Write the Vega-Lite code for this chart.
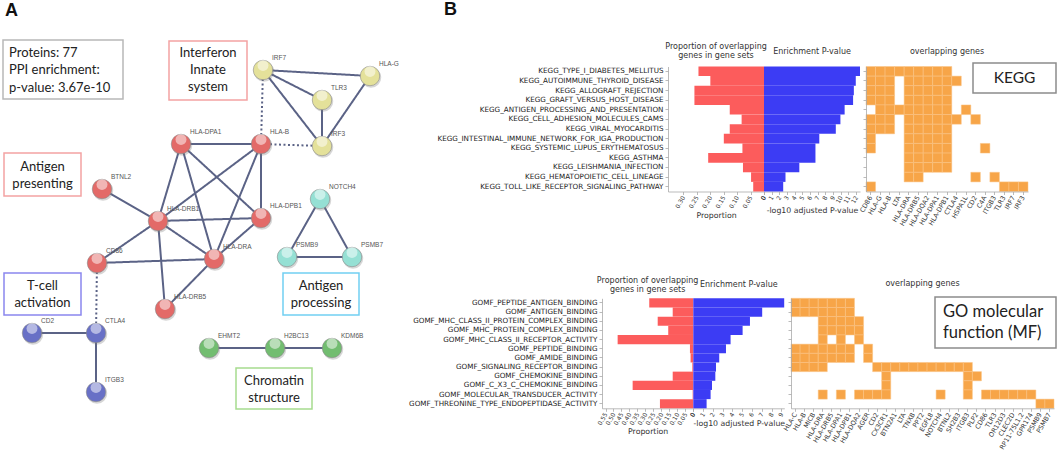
{
"$schema": "https://vega.github.io/schema/vega-lite/v6.json",
"width": 1059, "height": 455, "autosize": "none", "padding": 0, "background": "white",
"config": {
  "view": {"stroke": null},
  "font": "DejaVu Sans",
  "axis": {"grid": false, "labelFont": "DejaVu Sans", "labelFontSize": 6, "labelColor": "#333", "titleFont": "DejaVu Sans", "titleFontSize": 7.8, "titleFontWeight": "normal", "titleColor": "#333", "domainColor": "#aaa", "tickColor": "#aaa", "tickSize": 3, "labelPadding": 1.5, "domainWidth": 0.8, "tickWidth": 0.8, "labelOverlap": false, "labelFlush": false}
},
"datasets": {
  "nodes": [
    {"id": "IRF7", "x": 263, "y": 70, "cluster": "interferon"},
    {"id": "HLA-G", "x": 370, "y": 76, "cluster": "interferon"},
    {"id": "TLR3", "x": 322, "y": 100, "cluster": "interferon"},
    {"id": "IRF3", "x": 322, "y": 146, "cluster": "interferon"},
    {"id": "HLA-DPA1", "x": 181, "y": 144, "cluster": "antigen"},
    {"id": "HLA-B", "x": 261, "y": 144, "cluster": "antigen"},
    {"id": "BTNL2", "x": 102, "y": 189, "cluster": "antigen"},
    {"id": "HLA-DRB1", "x": 158, "y": 221, "cluster": "antigen"},
    {"id": "HLA-DPB1", "x": 261, "y": 218, "cluster": "antigen"},
    {"id": "HLA-DRA", "x": 214, "y": 259, "cluster": "antigen"},
    {"id": "CD86", "x": 97, "y": 263, "cluster": "antigen"},
    {"id": "HLA-DRB5", "x": 165, "y": 309, "cluster": "antigen"},
    {"id": "NOTCH4", "x": 320, "y": 199, "cluster": "processing"},
    {"id": "PSMB9", "x": 287, "y": 257, "cluster": "processing"},
    {"id": "PSMB7", "x": 352, "y": 257, "cluster": "processing"},
    {"id": "CD2", "x": 32, "y": 333, "cluster": "tcell"},
    {"id": "CTLA4", "x": 96, "y": 333, "cluster": "tcell"},
    {"id": "ITGB3", "x": 96, "y": 392, "cluster": "tcell"},
    {"id": "EHMT2", "x": 209, "y": 348, "cluster": "chromatin"},
    {"id": "H2BC13", "x": 275, "y": 348, "cluster": "chromatin"},
    {"id": "KDM6B", "x": 332, "y": 348, "cluster": "chromatin"}
  ],
  "edges": [
    {"source": "IRF7", "target": "HLA-G", "style": "solid"},
    {"source": "IRF7", "target": "TLR3", "style": "solid"},
    {"source": "IRF7", "target": "IRF3", "style": "solid"},
    {"source": "HLA-G", "target": "IRF3", "style": "solid"},
    {"source": "TLR3", "target": "IRF3", "style": "solid"},
    {"source": "IRF7", "target": "HLA-B", "style": "dotted"},
    {"source": "HLA-B", "target": "IRF3", "style": "dotted"},
    {"source": "HLA-DPA1", "target": "HLA-B", "style": "solid"},
    {"source": "HLA-DPA1", "target": "HLA-DRB1", "style": "solid"},
    {"source": "HLA-DPA1", "target": "HLA-DRA", "style": "solid"},
    {"source": "HLA-DPA1", "target": "HLA-DPB1", "style": "solid"},
    {"source": "HLA-B", "target": "HLA-DRB1", "style": "solid"},
    {"source": "HLA-B", "target": "HLA-DRA", "style": "solid"},
    {"source": "HLA-B", "target": "HLA-DPB1", "style": "solid"},
    {"source": "HLA-DRB1", "target": "HLA-DPB1", "style": "solid"},
    {"source": "HLA-DRB1", "target": "HLA-DRA", "style": "solid"},
    {"source": "HLA-DRB1", "target": "HLA-DRB5", "style": "solid"},
    {"source": "HLA-DRB1", "target": "CD86", "style": "solid"},
    {"source": "HLA-DRB1", "target": "BTNL2", "style": "solid"},
    {"source": "HLA-DPB1", "target": "HLA-DRA", "style": "solid"},
    {"source": "HLA-DRA", "target": "CD86", "style": "solid"},
    {"source": "HLA-DRA", "target": "HLA-DRB5", "style": "solid"},
    {"source": "CD86", "target": "CTLA4", "style": "dotted"},
    {"source": "CTLA4", "target": "CD2", "style": "solid"},
    {"source": "CTLA4", "target": "ITGB3", "style": "solid"},
    {"source": "NOTCH4", "target": "PSMB9", "style": "solid"},
    {"source": "NOTCH4", "target": "PSMB7", "style": "solid"},
    {"source": "PSMB9", "target": "PSMB7", "style": "solid"},
    {"source": "EHMT2", "target": "H2BC13", "style": "solid"},
    {"source": "H2BC13", "target": "KDM6B", "style": "solid"}
  ],
  "boxes": [
    {"label": "Proteins: 77\nPPI enrichment:\np-value: 3.67e-10", "kind": "summary", "x": 3, "y": 40, "x2": 123, "y2": 99, "tx": 9, "ty": 52.5},
    {"label": "Interferon\nInnate\nsystem", "kind": "interferon", "x": 169, "y": 41, "x2": 247, "y2": 100, "tx": 208, "ty": 53},
    {"label": "Antigen\npresenting", "kind": "antigen presenting", "x": 4, "y": 153, "x2": 81, "y2": 196, "tx": 42.5, "ty": 167},
    {"label": "T-cell\nactivation", "kind": "t-cell", "x": 4, "y": 273, "x2": 81, "y2": 315, "tx": 42.5, "ty": 285.5},
    {"label": "Antigen\nprocessing", "kind": "antigen processing", "x": 283, "y": 273, "x2": 359, "y2": 315, "tx": 321, "ty": 285.5},
    {"label": "Chromatin\nstructure", "kind": "chromatin", "x": 236, "y": 368, "x2": 312, "y2": 409, "tx": 274, "ty": 380.5},
    {"label": "KEGG", "kind": "KEGG", "x": 973, "y": 63, "x2": 1056, "y2": 93, "tx": 1014.5, "ty": 78},
    {"label": "GO molecular\nfunction (MF)", "kind": "GO", "x": 935, "y": 297, "x2": 1056, "y2": 348, "tx": 943, "ty": 312}
  ],
  "panels": [
    {"letter": "A", "x": 5, "y": 11},
    {"letter": "B", "x": 444, "y": 10}
  ],
  "kegg": [
    {"term": "KEGG_TYPE_I_DIABETES_MELLITUS", "proportion": 0.243, "neglog10p": 12.5, "genes": ["CD86","HLA-G","HLA-B","LTA","HLA-DRA","HLA-DRB5","HLA-DQA2","HLA-DPA1","HLA-DPB1"]},
    {"term": "KEGG_AUTOIMMUNE_THYROID_DISEASE", "proportion": 0.199, "neglog10p": 11.95, "genes": ["CD86","HLA-G","HLA-B","HLA-DRA","HLA-DRB5","HLA-DQA2","HLA-DPA1","HLA-DPB1","CTLA4"]},
    {"term": "KEGG_ALLOGRAFT_REJECTION", "proportion": 0.258, "neglog10p": 11.7, "genes": ["CD86","HLA-G","HLA-B","HLA-DRA","HLA-DRB5","HLA-DQA2","HLA-DPA1","HLA-DPB1"]},
    {"term": "KEGG_GRAFT_VERSUS_HOST_DISEASE", "proportion": 0.258, "neglog10p": 11.6, "genes": ["CD86","HLA-G","HLA-B","HLA-DRA","HLA-DRB5","HLA-DQA2","HLA-DPA1","HLA-DPB1"]},
    {"term": "KEGG_ANTIGEN_PROCESSING_AND_PRESENTATION", "proportion": 0.127, "neglog10p": 10.5, "genes": ["HLA-G","HLA-B","LTA","HLA-DRA","HLA-DRB5","HLA-DQA2","HLA-DPA1","HLA-DPB1","HSPA1L"]},
    {"term": "KEGG_CELL_ADHESION_MOLECULES_CAMS", "proportion": 0.083, "neglog10p": 9.95, "genes": ["CD86","HLA-G","HLA-B","HLA-DRA","HLA-DRB5","HLA-DQA2","HLA-DPA1","HLA-DPB1","CTLA4","CD2"]},
    {"term": "KEGG_VIRAL_MYOCARDITIS", "proportion": 0.127, "neglog10p": 9.35, "genes": ["CD86","HLA-G","HLA-B","HLA-DRA","HLA-DRB5","HLA-DQA2","HLA-DPA1","HLA-DPB1"]},
    {"term": "KEGG_INTESTINAL_IMMUNE_NETWORK_FOR_IGA_PRODUCTION", "proportion": 0.149, "neglog10p": 7.2, "genes": ["CD86","HLA-DRA","HLA-DRB5","HLA-DQA2","HLA-DPA1","HLA-DPB1"]},
    {"term": "KEGG_SYSTEMIC_LUPUS_ERYTHEMATOSUS", "proportion": 0.08, "neglog10p": 6.7, "genes": ["CD86","HLA-DRA","HLA-DRB5","HLA-DQA2","HLA-DPA1","HLA-DPB1","C4A"]},
    {"term": "KEGG_ASTHMA", "proportion": 0.207, "neglog10p": 6.7, "genes": ["HLA-DRA","HLA-DRB5","HLA-DQA2","HLA-DPA1","HLA-DPB1"]},
    {"term": "KEGG_LEISHMANIA_INFECTION", "proportion": 0.078, "neglog10p": 4.6, "genes": ["HLA-DRA","HLA-DRB5","HLA-DQA2","HLA-DPA1","HLA-DPB1"]},
    {"term": "KEGG_HEMATOPOIETIC_CELL_LINEAGE", "proportion": 0.048, "neglog10p": 2.8, "genes": ["HLA-DRA","HLA-DRB5","CD2","ITGB3"]},
    {"term": "KEGG_TOLL_LIKE_RECEPTOR_SIGNALING_PATHWAY", "proportion": 0.04, "neglog10p": 2.5, "genes": ["CD86","TLR3","IRF7","IRF3"]}
  ],
  "gomf": [
    {"term": "GOMF_PEPTIDE_ANTIGEN_BINDING", "proportion": 0.276, "neglog10p": 9.29, "genes": ["HLA-C","HLA-B","MICB","HLA-DRA","HLA-DRB5","HLA-DPA1","HLA-DPB1"]},
    {"term": "GOMF_ANTIGEN_BINDING", "proportion": 0.129, "neglog10p": 7.04, "genes": ["HLA-C","HLA-B","MICB","HLA-DRA","HLA-DRB5","HLA-DPA1","HLA-DPB1"]},
    {"term": "GOMF_MHC_CLASS_II_PROTEIN_COMPLEX_BINDING", "proportion": 0.223, "neglog10p": 5.79, "genes": ["HLA-DRA","HLA-DRB5","HLA-DPA1","HLA-DPB1","HLA-DQA2"]},
    {"term": "GOMF_MHC_PROTEIN_COMPLEX_BINDING", "proportion": 0.157, "neglog10p": 5.04, "genes": ["HLA-DRA","HLA-DRB5","HLA-DPA1","HLA-DPB1","HLA-DQA2"]},
    {"term": "GOMF_MHC_CLASS_II_RECEPTOR_ACTIVITY", "proportion": 0.474, "neglog10p": 3.81, "genes": ["HLA-DRA","HLA-DPA1","HLA-DQA2"]},
    {"term": "GOMF_PEPTIDE_BINDING", "proportion": 0.021, "neglog10p": 3.34, "genes": ["HLA-C","HLA-B","MICB","HLA-DRA","HLA-DRB5","HLA-DPA1","HLA-DPB1","AGER"]},
    {"term": "GOMF_AMIDE_BINDING", "proportion": 0.017, "neglog10p": 2.65, "genes": ["HLA-C","HLA-B","MICB","HLA-DRA","HLA-DRB5","HLA-DPA1","HLA-DPB1","AGER"]},
    {"term": "GOMF_SIGNALING_RECEPTOR_BINDING", "proportion": 0.006, "neglog10p": 2.32, "genes": ["HLA-C","HLA-B","MICB","HLA-DRA","CD2","CX3CR1","BTN2A1","LTA","TNXB","PPT2","EGFL8","NOTCH4","BTNL2","SH2B3","ITGB3"]},
    {"term": "GOMF_CHEMOKINE_BINDING", "proportion": 0.129, "neglog10p": 2.25, "genes": ["CX3CR1","ITGB3","PLP2"]},
    {"term": "GOMF_C_X3_C_CHEMOKINE_BINDING", "proportion": 0.38, "neglog10p": 1.91, "genes": ["CX3CR1","ITGB3"]},
    {"term": "GOMF_MOLECULAR_TRANSDUCER_ACTIVITY", "proportion": 0.004, "neglog10p": 1.77, "genes": ["HLA-DRA","HLA-DPA1","HLA-DQA2","AGER","CD2","CX3CR1","NOTCH4","ITGB3","CD86","TLR3","OR12D3","CLEC2D","RP11-75L1.2","GPR174"]},
    {"term": "GOMF_THREONINE_TYPE_ENDOPEPTIDASE_ACTIVITY", "proportion": 0.209, "neglog10p": 1.36, "genes": ["PSMB9","PSMB7"]}
  ]
},
"layer": [
  {
    "layer": [
      {
        "data": {"name": "edges"},
        "transform": [
          {"lookup": "source", "from": {"data": {"name": "nodes"}, "key": "id", "fields": ["x", "y"]}},
          {"lookup": "target", "from": {"data": {"name": "nodes"}, "key": "id", "fields": ["x", "y"]}, "as": ["x2", "y2"]}
        ],
        "mark": {"type": "rule", "color": "#5b6386", "strokeWidth": 2},
        "encoding": {
          "x": {"field": "x", "type": "quantitative", "scale": {"domain": [0, 1059], "range": [0, 1059], "nice": false, "zero": false}, "axis": null},
          "y": {"field": "y", "type": "quantitative", "scale": {"domain": [0, 455], "range": [0, 455], "nice": false, "zero": false}, "axis": null},
          "x2": {"field": "x2"},
          "y2": {"field": "y2"},
          "strokeDash": {"field": "style", "type": "nominal", "scale": {"domain": ["solid", "dotted"], "range": [[1, 0], [2, 2.5]]}, "legend": null}
        }
      },
      {
        "data": {"name": "nodes"},
        "mark": {"type": "circle", "size": 420, "color": "#777777", "opacity": 0.3, "xOffset": 1, "yOffset": 1.5},
        "encoding": {
          "x": {"field": "x", "type": "quantitative", "scale": {"domain": [0, 1059], "range": [0, 1059], "nice": false, "zero": false}, "axis": null},
          "y": {"field": "y", "type": "quantitative", "scale": {"domain": [0, 455], "range": [0, 455], "nice": false, "zero": false}, "axis": null}
        }
      },
      {
        "data": {"name": "nodes"},
        "mark": {"type": "circle", "size": 380, "opacity": 1, "stroke": "#8a8a8a", "strokeWidth": 0.6},
        "encoding": {
          "x": {"field": "x", "type": "quantitative", "scale": {"domain": [0, 1059], "range": [0, 1059], "nice": false, "zero": false}, "axis": null},
          "y": {"field": "y", "type": "quantitative", "scale": {"domain": [0, 455], "range": [0, 455], "nice": false, "zero": false}, "axis": null},
          "color": {"field": "cluster", "type": "nominal", "scale": {"domain": ["antigen", "interferon", "processing", "tcell", "chromatin"], "range": ["#e36a68", "#e4e19a", "#95e0d4", "#6870c6", "#72bd70"]}, "legend": null}
        }
      },
      {
        "data": {"name": "nodes"},
        "mark": {"type": "circle", "size": 120, "color": "white", "opacity": 0.5, "yOffset": -4.5},
        "encoding": {
          "x": {"field": "x", "type": "quantitative", "scale": {"domain": [0, 1059], "range": [0, 1059], "nice": false, "zero": false}, "axis": null},
          "y": {"field": "y", "type": "quantitative", "scale": {"domain": [0, 455], "range": [0, 455], "nice": false, "zero": false}, "axis": null}
        }
      },
      {
        "data": {"name": "nodes"},
        "mark": {"type": "text", "font": "Liberation Sans", "fontSize": 6.5, "color": "#555", "align": "left", "baseline": "middle", "dx": 9, "dy": -12},
        "encoding": {
          "x": {"field": "x", "type": "quantitative", "scale": {"domain": [0, 1059], "range": [0, 1059], "nice": false, "zero": false}, "axis": null},
          "y": {"field": "y", "type": "quantitative", "scale": {"domain": [0, 455], "range": [0, 455], "nice": false, "zero": false}, "axis": null},
          "text": {"field": "id"}
        }
      },
      {
        "data": {"name": "boxes"},
        "mark": {"type": "rect", "fillOpacity": 0, "strokeWidth": 1.5},
        "encoding": {
          "x": {"field": "x", "type": "quantitative", "scale": {"domain": [0, 1059], "range": [0, 1059], "nice": false, "zero": false}, "axis": null},
          "y": {"field": "y", "type": "quantitative", "scale": {"domain": [0, 455], "range": [0, 455], "nice": false, "zero": false}, "axis": null},
          "x2": {"field": "x2"},
          "y2": {"field": "y2"},
          "stroke": {"field": "kind", "type": "nominal", "scale": {"domain": ["summary", "interferon", "antigen presenting", "t-cell", "antigen processing", "chromatin", "KEGG", "GO"], "range": ["#b8b8b8", "#f3a3a3", "#f3a3a3", "#8b86ee", "#72cff2", "#a6dc8e", "#8c8c8c", "#8c8c8c"]}, "legend": null}
        }
      },
      {
        "data": {"name": "boxes"},
        "transform": [{"filter": "datum.kind == 'summary'"}],
        "mark": {"type": "text", "font": "Lato", "fontSize": 13, "color": "#222", "align": "left", "baseline": "middle", "lineBreak": "\n", "lineHeight": 17.5},
        "encoding": {
          "x": {"field": "tx", "type": "quantitative", "scale": {"domain": [0, 1059], "range": [0, 1059], "nice": false, "zero": false}, "axis": null},
          "y": {"field": "ty", "type": "quantitative", "scale": {"domain": [0, 455], "range": [0, 455], "nice": false, "zero": false}, "axis": null},
          "text": {"field": "label"}
        }
      },
      {
        "data": {"name": "boxes"},
        "transform": [{"filter": "datum.kind != 'summary' && datum.kind != 'KEGG' && datum.kind != 'GO'"}],
        "mark": {"type": "text", "font": "Lato", "fontSize": 13, "color": "#222", "align": "center", "baseline": "middle", "lineBreak": "\n", "lineHeight": 17},
        "encoding": {
          "x": {"field": "tx", "type": "quantitative", "scale": {"domain": [0, 1059], "range": [0, 1059], "nice": false, "zero": false}, "axis": null},
          "y": {"field": "ty", "type": "quantitative", "scale": {"domain": [0, 455], "range": [0, 455], "nice": false, "zero": false}, "axis": null},
          "text": {"field": "label"}
        }
      },
      {
        "data": {"name": "boxes"},
        "transform": [{"filter": "datum.kind == 'KEGG'"}],
        "mark": {"type": "text", "font": "Lato", "fontSize": 15.5, "color": "#222", "align": "center", "baseline": "middle"},
        "encoding": {
          "x": {"field": "tx", "type": "quantitative", "scale": {"domain": [0, 1059], "range": [0, 1059], "nice": false, "zero": false}, "axis": null},
          "y": {"field": "ty", "type": "quantitative", "scale": {"domain": [0, 455], "range": [0, 455], "nice": false, "zero": false}, "axis": null},
          "text": {"field": "label"}
        }
      },
      {
        "data": {"name": "boxes"},
        "transform": [{"filter": "datum.kind == 'GO'"}],
        "mark": {"type": "text", "font": "Lato", "fontSize": 16.5, "color": "#222", "align": "left", "baseline": "middle", "lineBreak": "\n", "lineHeight": 21},
        "encoding": {
          "x": {"field": "tx", "type": "quantitative", "scale": {"domain": [0, 1059], "range": [0, 1059], "nice": false, "zero": false}, "axis": null},
          "y": {"field": "ty", "type": "quantitative", "scale": {"domain": [0, 455], "range": [0, 455], "nice": false, "zero": false}, "axis": null},
          "text": {"field": "label"}
        }
      },
      {
        "data": {"name": "panels"},
        "mark": {"type": "text", "font": "Liberation Sans", "fontWeight": "bold", "fontSize": 18, "color": "#111", "align": "left", "baseline": "middle"},
        "encoding": {
          "x": {"field": "x", "type": "quantitative", "scale": {"domain": [0, 1059], "range": [0, 1059], "nice": false, "zero": false}, "axis": null},
          "y": {"field": "y", "type": "quantitative", "scale": {"domain": [0, 455], "range": [0, 455], "nice": false, "zero": false}, "axis": null},
          "text": {"field": "letter"}
        }
      }
    ]
  },
  {
    "data": {"name": "kegg"},
    "layer": [
      {
        "mark": {"type": "bar", "color": "#fc5c5c"},
        "encoding": {
          "y": {"field": "term", "type": "nominal", "scale": {"domain": ["KEGG_TYPE_I_DIABETES_MELLITUS","KEGG_AUTOIMMUNE_THYROID_DISEASE","KEGG_ALLOGRAFT_REJECTION","KEGG_GRAFT_VERSUS_HOST_DISEASE","KEGG_ANTIGEN_PROCESSING_AND_PRESENTATION","KEGG_CELL_ADHESION_MOLECULES_CAMS","KEGG_VIRAL_MYOCARDITIS","KEGG_INTESTINAL_IMMUNE_NETWORK_FOR_IGA_PRODUCTION","KEGG_SYSTEMIC_LUPUS_ERYTHEMATOSUS","KEGG_ASTHMA","KEGG_LEISHMANIA_INFECTION","KEGG_HEMATOPOIETIC_CELL_LINEAGE","KEGG_TOLL_LIKE_RECEPTOR_SIGNALING_PATHWAY"], "range": [66.5, 191.5], "paddingInner": 0, "paddingOuter": 0}, "axis": {"orient": "left", "offset": -668, "title": null, "labelFontSize": 7.2, "labelColor": "#222", "labelLimit": 400, "labelPadding": 2}},
          "x": {"field": "proportion", "type": "quantitative", "scale": {"domain": [0, 0.356], "range": [764, 668], "nice": false}, "axis": {"orient": "bottom", "offset": -263.5, "values": [0, 0.05, 0.1, 0.15, 0.2, 0.25, 0.3], "labelExpr": "datum.value == 0 ? '0' : format(datum.value, '.2f')", "labelAngle": -60, "labelAlign": "right", "labelBaseline": "middle", "title": "Proportion", "titlePadding": 2}}
        }
      },
      {
        "transform": [{"filter": "datum.term == 'KEGG_TYPE_I_DIABETES_MELLITUS'"}],
        "mark": {"type": "text", "fontSize": 8, "color": "#333", "align": "center", "baseline": "middle", "lineBreak": "\n", "lineHeight": 8.5, "dy": -24},
        "encoding": {
          "y": {"field": "term", "type": "nominal"},
          "x": {"datum": 0.178, "type": "quantitative"},
          "text": {"value": "Proportion of overlapping\ngenes in gene sets"}
        }
      }
    ]
  },
  {
    "data": {"name": "kegg"},
    "layer": [
      {
        "mark": {"type": "bar", "color": "#3c3cf4"},
        "encoding": {
          "y": {"field": "term", "type": "nominal", "scale": {"domain": ["KEGG_TYPE_I_DIABETES_MELLITUS","KEGG_AUTOIMMUNE_THYROID_DISEASE","KEGG_ALLOGRAFT_REJECTION","KEGG_GRAFT_VERSUS_HOST_DISEASE","KEGG_ANTIGEN_PROCESSING_AND_PRESENTATION","KEGG_CELL_ADHESION_MOLECULES_CAMS","KEGG_VIRAL_MYOCARDITIS","KEGG_INTESTINAL_IMMUNE_NETWORK_FOR_IGA_PRODUCTION","KEGG_SYSTEMIC_LUPUS_ERYTHEMATOSUS","KEGG_ASTHMA","KEGG_LEISHMANIA_INFECTION","KEGG_HEMATOPOIETIC_CELL_LINEAGE","KEGG_TOLL_LIKE_RECEPTOR_SIGNALING_PATHWAY"], "range": [66.5, 191.5], "paddingInner": 0, "paddingOuter": 0}, "axis": null},
          "x": {"field": "neglog10p", "type": "quantitative", "scale": {"domain": [0, 12.5], "range": [764, 860], "nice": false}, "axis": {"orient": "bottom", "offset": -263.5, "values": [0,1,2,3,4,5,6,7,8,9,10,11,12], "format": "d", "labelAngle": -60, "labelAlign": "right", "labelBaseline": "middle", "title": "-log10 adjusted P-value", "titlePadding": 2}}
        }
      },
      {
        "transform": [{"filter": "datum.term == 'KEGG_TYPE_I_DIABETES_MELLITUS'"}],
        "mark": {"type": "text", "fontSize": 8, "color": "#333", "align": "center", "baseline": "middle", "dy": -19},
        "encoding": {
          "y": {"field": "term", "type": "nominal", "axis": null},
          "x": {"datum": 6.25, "type": "quantitative"},
          "text": {"value": "Enrichment P-value"}
        }
      }
    ]
  },
  {
    "data": {"name": "kegg"},
    "layer": [
      {
        "transform": [{"flatten": ["genes"], "as": ["gene"]}],
        "mark": {"type": "rect", "color": "#f7a548", "stroke": "#fbc487", "strokeWidth": 0.5},
        "encoding": {
          "x": {"field": "gene", "type": "nominal", "scale": {"domain": ["CD86","HLA-G","HLA-B","LTA","HLA-DRA","HLA-DRB5","HLA-DQA2","HLA-DPA1","HLA-DPB1","CTLA4","HSPA1L","CD2","C4A","ITGB3","TLR3","IRF7","IRF3"], "range": [866, 1028], "paddingInner": 0, "paddingOuter": 0}, "axis": {"orient": "bottom", "offset": -263.5, "labelAngle": -60, "labelAlign": "right", "labelBaseline": "middle", "labelFontSize": 6.5, "title": null}},
          "y": {"field": "term", "type": "nominal", "scale": {"domain": ["KEGG_TYPE_I_DIABETES_MELLITUS","KEGG_AUTOIMMUNE_THYROID_DISEASE","KEGG_ALLOGRAFT_REJECTION","KEGG_GRAFT_VERSUS_HOST_DISEASE","KEGG_ANTIGEN_PROCESSING_AND_PRESENTATION","KEGG_CELL_ADHESION_MOLECULES_CAMS","KEGG_VIRAL_MYOCARDITIS","KEGG_INTESTINAL_IMMUNE_NETWORK_FOR_IGA_PRODUCTION","KEGG_SYSTEMIC_LUPUS_ERYTHEMATOSUS","KEGG_ASTHMA","KEGG_LEISHMANIA_INFECTION","KEGG_HEMATOPOIETIC_CELL_LINEAGE","KEGG_TOLL_LIKE_RECEPTOR_SIGNALING_PATHWAY"], "range": [66.5, 191.5], "paddingInner": 0, "paddingOuter": 0}, "axis": {"orient": "left", "offset": -866, "labels": false, "title": null}}
        }
      },
      {
        "transform": [{"filter": "datum.term == 'KEGG_TYPE_I_DIABETES_MELLITUS'"}],
        "mark": {"type": "text", "fontSize": 8, "color": "#333", "align": "center", "baseline": "middle", "dy": -19},
        "encoding": {
          "y": {"field": "term", "type": "nominal"},
          "x": {"datum": "HLA-DPB1", "type": "nominal"},
          "text": {"value": "overlapping genes"}
        }
      }
    ]
  },
  {
    "data": {"name": "gomf"},
    "layer": [
      {
        "mark": {"type": "bar", "color": "#fc5c5c"},
        "encoding": {
          "y": {"field": "term", "type": "nominal", "scale": {"domain": ["GOMF_PEPTIDE_ANTIGEN_BINDING","GOMF_ANTIGEN_BINDING","GOMF_MHC_CLASS_II_PROTEIN_COMPLEX_BINDING","GOMF_MHC_PROTEIN_COMPLEX_BINDING","GOMF_MHC_CLASS_II_RECEPTOR_ACTIVITY","GOMF_PEPTIDE_BINDING","GOMF_AMIDE_BINDING","GOMF_SIGNALING_RECEPTOR_BINDING","GOMF_CHEMOKINE_BINDING","GOMF_C_X3_C_CHEMOKINE_BINDING","GOMF_MOLECULAR_TRANSDUCER_ACTIVITY","GOMF_THREONINE_TYPE_ENDOPEPTIDASE_ACTIVITY"], "range": [298.3, 408.3], "paddingInner": 0, "paddingOuter": 0}, "axis": {"orient": "left", "offset": -602, "title": null, "labelFontSize": 7.2, "labelColor": "#222", "labelLimit": 400, "labelPadding": 2}},
          "x": {"field": "proportion", "type": "quantitative", "scale": {"domain": [0, 0.572], "range": [693.3, 602], "nice": false}, "axis": {"orient": "bottom", "offset": -46.7, "values": [0, 0.05, 0.1, 0.15, 0.2, 0.25, 0.3, 0.35, 0.4, 0.45, 0.5, 0.55], "labelExpr": "datum.value == 0 ? '0' : format(datum.value, '.2f')", "labelAngle": -60, "labelAlign": "right", "labelBaseline": "middle", "title": "Proportion", "titlePadding": 2}}
        }
      },
      {
        "transform": [{"filter": "datum.term == 'GOMF_PEPTIDE_ANTIGEN_BINDING'"}],
        "mark": {"type": "text", "fontSize": 8, "color": "#333", "align": "center", "baseline": "middle", "lineBreak": "\n", "lineHeight": 8.5, "dy": -21.5},
        "encoding": {
          "y": {"field": "term", "type": "nominal"},
          "x": {"datum": 0.286, "type": "quantitative"},
          "text": {"value": "Proportion of overlapping\ngenes in gene sets"}
        }
      }
    ]
  },
  {
    "data": {"name": "gomf"},
    "layer": [
      {
        "mark": {"type": "bar", "color": "#3c3cf4"},
        "encoding": {
          "y": {"field": "term", "type": "nominal", "scale": {"domain": ["GOMF_PEPTIDE_ANTIGEN_BINDING","GOMF_ANTIGEN_BINDING","GOMF_MHC_CLASS_II_PROTEIN_COMPLEX_BINDING","GOMF_MHC_PROTEIN_COMPLEX_BINDING","GOMF_MHC_CLASS_II_RECEPTOR_ACTIVITY","GOMF_PEPTIDE_BINDING","GOMF_AMIDE_BINDING","GOMF_SIGNALING_RECEPTOR_BINDING","GOMF_CHEMOKINE_BINDING","GOMF_C_X3_C_CHEMOKINE_BINDING","GOMF_MOLECULAR_TRANSDUCER_ACTIVITY","GOMF_THREONINE_TYPE_ENDOPEPTIDASE_ACTIVITY"], "range": [298.3, 408.3], "paddingInner": 0, "paddingOuter": 0}, "axis": null},
          "x": {"field": "neglog10p", "type": "quantitative", "scale": {"domain": [0, 9.3], "range": [693.3, 784.3], "nice": false}, "axis": {"orient": "bottom", "offset": -46.7, "values": [0,1,2,3,4,5,6,7,8,9], "format": "d", "labelAngle": -60, "labelAlign": "right", "labelBaseline": "middle", "title": "-log10 adjusted P-value", "titlePadding": 2}}
        }
      },
      {
        "transform": [{"filter": "datum.term == 'GOMF_PEPTIDE_ANTIGEN_BINDING'"}],
        "mark": {"type": "text", "fontSize": 8, "color": "#333", "align": "center", "baseline": "middle", "dy": -18},
        "encoding": {
          "y": {"field": "term", "type": "nominal", "axis": null},
          "x": {"datum": 4.65, "type": "quantitative"},
          "text": {"value": "Enrichment P-value"}
        }
      }
    ]
  },
  {
    "data": {"name": "gomf"},
    "layer": [
      {
        "transform": [{"flatten": ["genes"], "as": ["gene"]}],
        "mark": {"type": "rect", "color": "#f7a548", "stroke": "#fbc487", "strokeWidth": 0.5},
        "encoding": {
          "x": {"field": "gene", "type": "nominal", "scale": {"domain": ["HLA-C","HLA-B","MICB","HLA-DRA","HLA-DRB5","HLA-DPA1","HLA-DPB1","HLA-DQA2","AGER","CD2","CX3CR1","BTN2A1","LTA","TNXB","PPT2","EGFL8","NOTCH4","BTNL2","SH2B3","ITGB3","PLP2","CD86","TLR3","OR12D3","CLEC2D","RP11-75L1.2","GPR174","PSMB9","PSMB7"], "range": [791, 1054], "paddingInner": 0, "paddingOuter": 0}, "axis": {"orient": "bottom", "offset": -46.7, "labelAngle": -60, "labelAlign": "right", "labelBaseline": "middle", "labelFontSize": 6.5, "title": null}},
          "y": {"field": "term", "type": "nominal", "scale": {"domain": ["GOMF_PEPTIDE_ANTIGEN_BINDING","GOMF_ANTIGEN_BINDING","GOMF_MHC_CLASS_II_PROTEIN_COMPLEX_BINDING","GOMF_MHC_PROTEIN_COMPLEX_BINDING","GOMF_MHC_CLASS_II_RECEPTOR_ACTIVITY","GOMF_PEPTIDE_BINDING","GOMF_AMIDE_BINDING","GOMF_SIGNALING_RECEPTOR_BINDING","GOMF_CHEMOKINE_BINDING","GOMF_C_X3_C_CHEMOKINE_BINDING","GOMF_MOLECULAR_TRANSDUCER_ACTIVITY","GOMF_THREONINE_TYPE_ENDOPEPTIDASE_ACTIVITY"], "range": [298.3, 408.3], "paddingInner": 0, "paddingOuter": 0}, "axis": {"orient": "left", "offset": -791, "labels": false, "title": null}}
        }
      },
      {
        "transform": [{"filter": "datum.term == 'GOMF_PEPTIDE_ANTIGEN_BINDING'"}],
        "mark": {"type": "text", "fontSize": 8, "color": "#333", "align": "center", "baseline": "middle", "dy": -18.6},
        "encoding": {
          "y": {"field": "term", "type": "nominal"},
          "x": {"datum": "PPT2", "type": "nominal"},
          "text": {"value": "overlapping genes"}
        }
      }
    ]
  }
],
"resolve": {
  "scale": {"x": "independent", "y": "independent", "color": "independent", "stroke": "independent", "strokeDash": "independent"},
  "axis": {"x": "independent", "y": "independent"}
}
}
